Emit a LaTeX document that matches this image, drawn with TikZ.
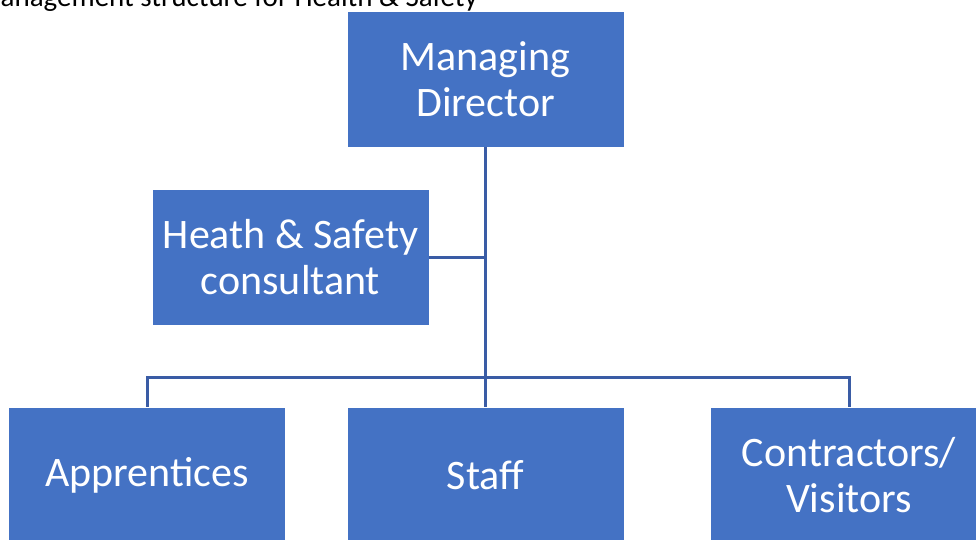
\documentclass[tikz,border=0pt]{standalone}
\usepackage{fontspec}
\setmainfont{Carlito}
\definecolor{boxfill}{HTML}{4472C4}
\definecolor{linkblue}{HTML}{3A5CA5}
\tikzset{
  orgbox/.style={draw=white, line width=0.8pt, fill=boxfill, text=white,
    minimum width=277pt, minimum height=136pt, inner sep=0pt, align=center,
    font=\fontsize{42}{46}\selectfont},
  link/.style={draw=linkblue, line width=3pt},
}
\begin{document}
\begin{tikzpicture}[x=1pt, y=-1pt]
  \useasboundingbox (0,0) rectangle (976,539);
  \clip (0,0) rectangle (976,539);

  % heading line above the chart
  \node[anchor=base east, inner sep=0pt, font=\fontsize{29}{34}\selectfont]
    (title) at (478,6.5) {Management structure for Health \& Safety};

  % boxes
  \node[orgbox] (md)    at (485.5,79)  {Managing\\Director};
  \node[orgbox] (hs)    at (290.5,257) {Heath \& Safety\\consultant};
  \node[orgbox] (appr)  at (147,475)   {Apprentices};
  \node[orgbox] (staff) at (485.5,475) {Staff};
  \node[orgbox] (contr) at (849,475)   {Contractors/\\Visitors};

  % connectors
  \coordinate (bus) at (485,377);
  \draw[link] (md.south -| bus) -- (staff.north -| bus);
  \draw[link] (hs.east) -- (hs.east -| bus);
  \draw[link] (appr.north) -- (appr.north |- bus) -- (contr.north |- bus) -- (contr.north);
\end{tikzpicture}
\end{document}
